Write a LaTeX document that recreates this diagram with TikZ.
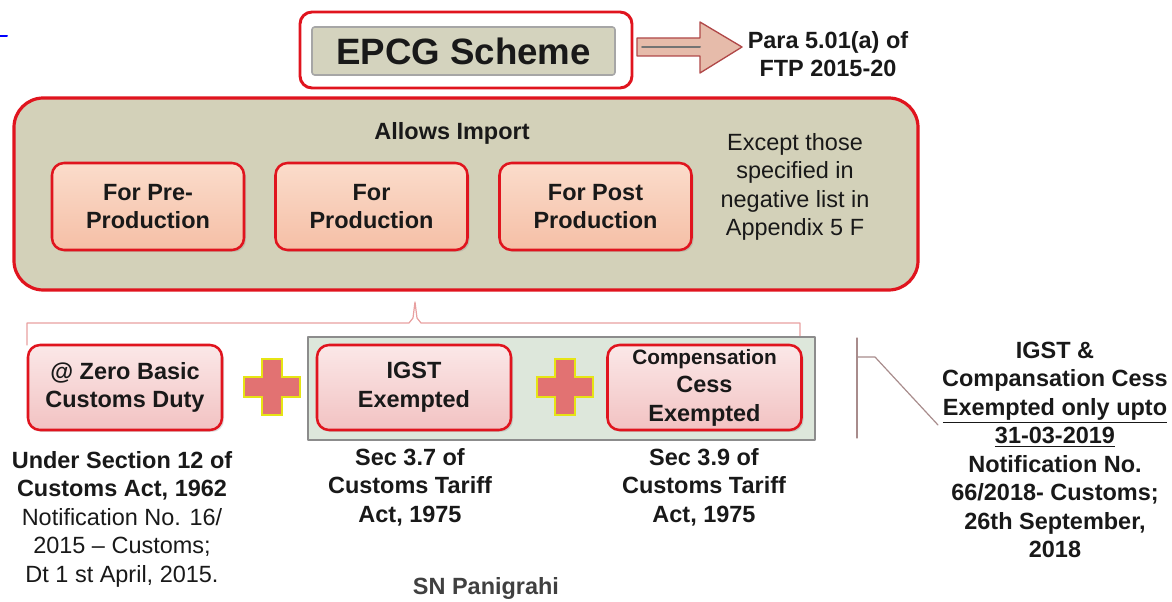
\documentclass[tikz,border=0pt]{standalone}
\usepackage{fontspec}
\setmainfont{Liberation Sans}
\usetikzlibrary{shadows}
\definecolor{boxred}{HTML}{E0141E}
\definecolor{epcgbeige}{HTML}{D4D3BE}
\definecolor{panelbeige}{HTML}{D3D1B9}
\definecolor{peachtop}{HTML}{FBDCCB}
\definecolor{peachbot}{HTML}{F5BFA6}
\definecolor{pinktop}{HTML}{FBE8E8}
\definecolor{pinkbot}{HTML}{F2C2C2}
\definecolor{bandgreen}{HTML}{DDE7DB}
\definecolor{arrowfill}{HTML}{E6BBAA}
\definecolor{arrowline}{HTML}{B04848}
\definecolor{plusred}{HTML}{E27272}
\definecolor{plusyellow}{HTML}{E6E414}
\definecolor{bracketpink}{HTML}{E8A0A0}
\definecolor{bracketgrey}{HTML}{A88C8C}
\begin{document}
\begin{tikzpicture}[line cap=round,line join=round,x=0.75pt,y=-0.75pt,
every node/.style={font=\fontsize{17.6}{21.4}\selectfont\bfseries,align=center,inner sep=0pt,text=black!90},
redframe/.style={draw=boxred,line width=2.2pt,rounded corners=9pt},
peachbox/.style={redframe,line width=1.9pt,top color=peachtop,bottom color=peachbot,minimum width=144pt,minimum height=65.25pt,drop shadow={opacity=0.25,shadow xshift=1.5pt,shadow yshift=-1.5pt}},
pinkbox/.style={redframe,line width=1.9pt,top color=pinktop,bottom color=pinkbot,minimum width=145.5pt,minimum height=63.75pt,drop shadow={opacity=0.25,shadow xshift=1.5pt,shadow yshift=-1.5pt}},
plaintext/.style={font=\fontsize{17.6}{21.4}\selectfont},
plussign/.style={draw=plusyellow,fill=plusred,line width=2pt,line join=miter},
bracketline/.style={draw=bracketpink,line width=0.9pt},
greyline/.style={draw=bracketgrey,line width=0.9pt}]
\useasboundingbox (0,0) rectangle (1172,602);
\draw[blue,line width=1.5pt] (0,36) -- (7,36);
\node[redframe,fill=white,minimum width=249pt,minimum height=57pt] (epcgframe) at (466,50) {};
\node[draw=black!35,fill=epcgbeige,line width=1.2pt,minimum width=227.25pt,minimum height=36pt,rounded corners=2pt,font=\fontsize{27.5}{30}\selectfont\bfseries] (epcg) at (463.5,51) {EPCG Scheme};
\draw[draw=arrowline,fill=arrowfill,line width=1pt] (637,38) -- (700,38) -- (700,22) -- (742,47) -- (700,73) -- (700,56) -- (637,56) -- cycle;
\draw[black!55,line width=1.5pt] (642,47) -- (700,47);
\node (para) at (828,54) {Para 5.01(a) of\\FTP 2015-20};
\node[redframe,line width=2.4pt,fill=panelbeige,minimum width=678pt,minimum height=144pt,rounded corners=22pt] (allows) at (466,194) {};
\node (allowtitle) at (452,133) {Allows Import};
\node[peachbox] (pre) at (148,206.5) {For Pre-\\Production};
\node[peachbox] (prod) at (371.5,206.5) {For\\Production};
\node[peachbox] (post) at (595.5,206.5) {For Post\\Production};
\node[plaintext] (except) at (795,187) {Except those\\specified in\\negative list in\\Appendix 5 F};
\coordinate (bl) at (27,345);
\coordinate (br) at (800,338);
\draw[bracketline] (bl) |- (409,323) -- (413,318) -- (415,302) -- (417,318) -- (421,323) -| (br);
\node[draw=black!45,fill=bandgreen,line width=0.9pt,minimum width=380.25pt,minimum height=77.25pt] (cessband) at (561.5,388.5) {};
\node[pinkbox] (zero) at (125,387.5) {@ Zero Basic\\Customs Duty};
\node[pinkbox] (igst) at (414,387.5) {IGST\\Exempted};
\node[pinkbox] (comp) at (704.5,387.5) {{\fontsize{15.6}{20.6}\selectfont Compensation}\\Cess\\Exempted};
\foreach \cx in {272,565}
\draw[plussign] (\cx-10,359) -- (\cx+10,359) -- (\cx+10,377) -- (\cx+28,377) -- (\cx+28,397) -- (\cx+10,397) -- (\cx+10,415) -- (\cx-10,415) -- (\cx-10,397) -- (\cx-28,397) -- (\cx-28,377) -- (\cx-10,377) -- cycle;
\draw[greyline] (857,338) -- (857,438);
\draw[greyline] (857,357) -- (875,357) -- (938,425);
\node (zeronote) at (122,519) {Under Section 12 of\\Customs Act, 1962\\\mdseries Notification No. 16/\\\mdseries 2015 -- Customs;\\\mdseries Dt 1 st April, 2015.};
\node (igstnote) at (410,487) {Sec 3.7 of\\Customs Tariff\\Act, 1975};
\node (compnote) at (704,487) {Sec 3.9 of\\Customs Tariff\\Act, 1975};
\node (cessnote) at (1055,450) {IGST \&\\Compansation Cess\\\underline{Exempted only upto}\\\underline{31-03-2019}\\Notification No.\\66/2018- Customs;\\26th September,\\2018};
\node[text=black!75] (author) at (486,588) {SN Panigrahi};
\end{tikzpicture}
\end{document}
